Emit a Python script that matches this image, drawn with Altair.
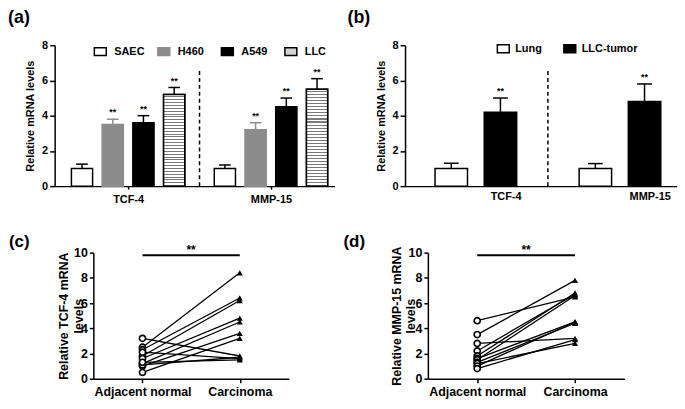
import altair as alt
import pandas as pd

FONT = "Liberation Sans"

# ---------------- data ----------------
genes = ["TCF-4", "MMP-15"]

cell_lines = ["SAEC", "H460", "A549", "LLC"]
a_tcf4_mean = [1.0, 3.5, 3.6, 5.2]
a_tcf4_err = [0.25, 0.3, 0.4, 0.4]
a_mmp15_mean = [1.0, 3.2, 4.5, 5.5]
a_mmp15_err = [0.2, 0.4, 0.5, 0.6]
a_sig = ["", "**", "**", "**"]
a_fills = ["white", "#8c8c8c", "black", "#d4d4d4"]
a_strokes = ["black", "#8c8c8c", "black", "black"]

tissues = ["Lung", "LLC-tumor"]
b_tcf4_mean = [1.0, 4.2]
b_tcf4_err = [0.3, 0.8]
b_mmp15_mean = [1.0, 4.8]
b_mmp15_err = [0.28, 1.0]
b_sig = ["", "**"]
b_fills = ["white", "black"]
b_strokes = ["black", "black"]

groups = ["Adjacent normal", "Carcinoma"]
c_normal = [2.5, 2.3, 1.8, 1.6, 1.2, 1.0, 0.5, 3.2, 1.1, 1.3, 2.1]
c_carcinoma = [8.4, 6.4, 6.2, 4.8, 4.5, 3.6, 3.2, 1.8, 1.7, 1.5, 1.6]
d_normal = [4.6, 3.5, 2.8, 2.2, 1.8, 1.6, 1.5, 1.3, 1.2, 1.0, 0.8]
d_carcinoma = [6.5, 7.8, 3.2, 6.7, 6.8, 4.5, 6.6, 4.4, 2.8, 4.5, 3.1]

panel_labels = ["(a)", "(b)", "(c)", "(d)"]
divider_top = 6.6
sig_level = 9.8

# --------------- helpers ---------------
def stripe_stops(n, dark="#7a7a7a", duty=0.35):
    stops = []
    for k in range(n):
        a = k / n
        b = (k + 1 - duty) / n
        c = (k + 1) / n
        stops += [(a, "white"), (b, "white"), (b, dark), (c, dark)]
    return stops


def gradient(n):
    return alt.LinearGradient(
        gradient="linear", x1=0, x2=0, y1=0, y2=1,
        stops=[alt.GradientStop(offset=o, color=c) for o, c in stripe_stops(n)],
    )


def bar_df(cat_field, cats, means_list, errs_list, sig, gap, bar_w, cap_w):
    """Layout in 'slot' units: one slot per bar, plus a gap between gene groups."""
    n = len(cats)
    rows = []
    for g, (gene, means, errs) in enumerate(zip(genes, means_list, errs_list)):
        for i, (cat, m, e, s) in enumerate(zip(cats, means, errs, sig)):
            pos = g * (n + gap) + i
            rows.append({"gene": gene, cat_field: cat, "mean": m, "upper": m + e, "sig": s,
                         "pos": pos, "lo": pos - bar_w / 2, "hi": pos + bar_w / 2,
                         "clo": pos - cap_w / 2, "chi": pos + cap_w / 2, "base": 0.0})
    df = pd.DataFrame(rows)
    centers = [g * (n + gap) + (n - 1) / 2 for g in range(len(genes))]
    divider = ((n - 1) + (n + gap)) / 2
    return df, centers, divider


def label_layer(label, lx, ly, size):
    return alt.Chart(pd.DataFrame({"label": [label]})).mark_text(
        align="left", baseline="top", fontSize=size, fontWeight="bold", color="black"
    ).encode(x=alt.value(lx), y=alt.value(ly), text="label:N")


def bar_panel(df, centers, divider, x_domain, cat_field, cats, fills, strokes, width, height,
              legend_kw, label, lx, ly, label_offset=0, ticks=True, stripe_cat=None):
    label_expr = "datum.value < %f ? '%s' : '%s'" % ((centers[0] + centers[1]) / 2, genes[0], genes[1])
    xscale = alt.Scale(domain=x_domain, nice=False, zero=False)
    xaxis = alt.Axis(title=None, values=centers, labelExpr=label_expr, labelAngle=0, ticks=ticks,
                     tickSize=3, labelFontSize=11, labelPadding=4, labelOffset=label_offset,
                     domainWidth=1.5)

    def X(field):
        return alt.X(field, scale=xscale, axis=xaxis)

    def Y(field):
        return alt.Y(field, scale=alt.Scale(domain=[0, 8], nice=False),
                     axis=alt.Axis(values=[0, 2, 4, 6, 8], title="Relative mRNA levels",
                                   titleFontSize=11, labelFontSize=11, tickSize=5,
                                   labelPadding=2, titleBaseline="bottom", titleX=-19,
                                   domainWidth=1.5))

    legend = alt.Legend(title=None, orient="none", direction="horizontal", columns=len(cats),
                        symbolType="M-1,-0.667L1,-0.667L1,0.667L-1,0.667Z", symbolSize=144,
                        symbolStrokeWidth=1.5, labelFontSize=11, padding=0, symbolOpacity=1,
                        **legend_kw)
    fill = alt.Fill(f"{cat_field}:N", scale=alt.Scale(domain=cats, range=fills), legend=legend)
    stroke = alt.Stroke(f"{cat_field}:N", scale=alt.Scale(domain=cats, range=strokes), legend=legend)
    color = alt.Color(f"{cat_field}:N", scale=alt.Scale(domain=cats, range=strokes), legend=None)

    bars = alt.Chart(df).mark_bar(strokeWidth=1.5, opacity=1).encode(
        x=X("lo:Q"), x2="hi:Q", y=Y("mean:Q"), y2="base:Q", fill=fill, stroke=stroke)
    layers = [bars]
    if stripe_cat is not None:
        striped = alt.Chart(df).transform_filter(alt.datum[cat_field] == stripe_cat).mark_bar(
            fill=gradient(32), stroke="black", strokeWidth=1.5
        ).encode(x=X("lo:Q"), x2="hi:Q", y=Y("mean:Q"), y2="base:Q")
        layers.append(striped)
    err = alt.Chart(df).mark_rule(strokeWidth=1.5).encode(
        x=X("pos:Q"), y=Y("mean:Q"), y2="upper:Q", color=color)
    cap = alt.Chart(df).mark_rule(strokeWidth=1.5).encode(
        x=X("clo:Q"), x2="chi:Q", y=Y("upper:Q"), color=color)
    sig = alt.Chart(df).mark_text(dy=-7, fontSize=9, fontWeight="bold", color="black").encode(
        x=X("pos:Q"), y=Y("upper:Q"), text="sig:N")
    div_df = pd.DataFrame({"xd": [divider], "lo": [0.0], "hi": [divider_top]})
    div = alt.Chart(div_df).mark_rule(strokeDash=[4, 3], strokeWidth=1.5, color="black").encode(
        x=X("xd:Q"), y=Y("lo:Q"), y2="hi:Q")
    layers += [err, cap, sig, div, label_layer(label, lx, ly, 18)]
    return alt.layer(*layers).properties(width=width, height=height)


def pair_panel(normal, carcinoma, title_lines, title_x, width, height, label=None, lx=0, ly=0):
    rows = []
    for i, (n, c) in enumerate(zip(normal, carcinoma)):
        rows.append({"pair": i, "grp": 0, "val": n})
        rows.append({"pair": i, "grp": 1, "val": c})
    df = pd.DataFrame(rows)
    label_expr = "datum.value == 0 ? '%s' : '%s'" % (groups[0], groups[1])

    def X(field):
        return alt.X(field, scale=alt.Scale(domain=[-0.505, 1.505], nice=False, zero=False),
                     axis=alt.Axis(values=[0, 1], labelExpr=label_expr, title=None,
                                   labelFontSize=12.5, tickSize=4, labelPadding=3,
                                   domainWidth=1.5))

    def Y(field):
        return alt.Y(field, scale=alt.Scale(domain=[0, 10], nice=False),
                     axis=alt.Axis(values=[0, 2, 4, 6, 8, 10], title=title_lines,
                                   titleFontSize=12.5, labelFontSize=12.5, tickSize=4,
                                   labelPadding=2, titleBaseline="bottom", titleX=title_x,
                                   titleLineHeight=15, domainWidth=1.5))

    lines = alt.Chart(df).mark_line(color="black", strokeWidth=1.3).encode(
        x=X("grp:Q"), y=Y("val:Q"), detail="pair:N")
    circ = alt.Chart(df).transform_filter("datum.grp == 0").mark_point(
        shape="circle", filled=True, fill="white", stroke="black", strokeWidth=1.7, size=38, opacity=1
    ).encode(x=X("grp:Q"), y=Y("val:Q"))
    tri = alt.Chart(df).transform_filter("datum.grp == 1").mark_point(
        shape="triangle-up", filled=True, color="black", size=38, opacity=1
    ).encode(x=X("grp:Q"), y=Y("val:Q"))
    sig_df = pd.DataFrame({"x0": [0], "x1": [1], "xm": [0.5], "y": [sig_level], "t": ["**"]})
    sig_line = alt.Chart(sig_df).mark_rule(strokeWidth=2, color="black").encode(
        x=X("x0:Q"), x2="x1:Q", y=Y("y:Q"))
    sig_txt = alt.Chart(sig_df).mark_text(dy=-5, fontSize=12, fontWeight="bold", color="black").encode(
        x=X("xm:Q"), y=Y("y:Q"), text="t:N")
    layers = [lines, circ, tri, sig_line, sig_txt]
    if label is not None:
        layers.append(label_layer(label, lx, ly, 17))
    return alt.layer(*layers).properties(width=width, height=height)


# --------------- panels ---------------
df_a, cen_a, div_a = bar_df("line", cell_lines, [a_tcf4_mean, a_mmp15_mean],
                            [a_tcf4_err, a_mmp15_err], a_sig, gap=0.65, bar_w=0.69, cap_w=0.38)
pa = bar_panel(
    df_a, cen_a, div_a, [-0.89, 8.22], "line", cell_lines, a_fills, a_strokes, 282, 142,
    dict(legendX=39, legendY=-1, gridAlign="all", columnPadding=10, labelOffset=7),
    panel_labels[0], -47, -36, label_offset=0, ticks=True, stripe_cat="LLC",
)

df_b, cen_b, div_b = bar_df("tissue", tissues, [b_tcf4_mean, b_mmp15_mean],
                            [b_tcf4_err, b_mmp15_err], b_sig, gap=0.93, bar_w=0.66, cap_w=0.3)
pb = bar_panel(
    df_b, cen_b, div_b, [-0.94, 4.59], "tissue", tissues, b_fills, b_strokes, 274, 142,
    dict(legendX=92, legendY=-4, columnPadding=19, labelOffset=5),
    panel_labels[1], -58, -36, label_offset=30, ticks=False,
)

# panel (c): its label lives in a 1-px spacer so that (c) sits further right than (a)
spacer_c = alt.layer(label_layer(panel_labels[2], -46, -19, 17)).properties(width=1, height=127)
pc = pair_panel(c_normal, c_carcinoma, ["Relative TCF-4 mRNA", "levels"], -23, 197, 127)
pd_ = pair_panel(d_normal, d_carcinoma, ["Relative MMP-15 mRNA", "levels"], -25, 198, 127,
                 label=panel_labels[3], lx=-85, ly=-19)

res = dict(fill="independent", stroke="independent", color="independent")
top = alt.hconcat(pa, pb, spacing=13).resolve_scale(**res)
left_bottom = alt.hconcat(spacer_c, pc, spacing=1).resolve_scale(**res)
bottom = alt.hconcat(left_bottom, pd_, spacing=55).resolve_scale(**res)

chart = (
    alt.vconcat(top, bottom, spacing=29)
    .resolve_scale(**res)
    .properties(padding=0)
    .configure_view(stroke=None)
    .configure_axis(labelFont=FONT, titleFont=FONT, labelFontWeight="bold", titleFontWeight="bold",
                    labelColor="black", titleColor="black", domainColor="black", tickColor="black",
                    tickWidth=1.5, grid=False)
    .configure_legend(labelFont=FONT, labelFontWeight="bold", labelColor="black")
    .configure_text(font=FONT)
)

chart.save("out.html", embed_options={"renderer": "svg", "actions": False})
